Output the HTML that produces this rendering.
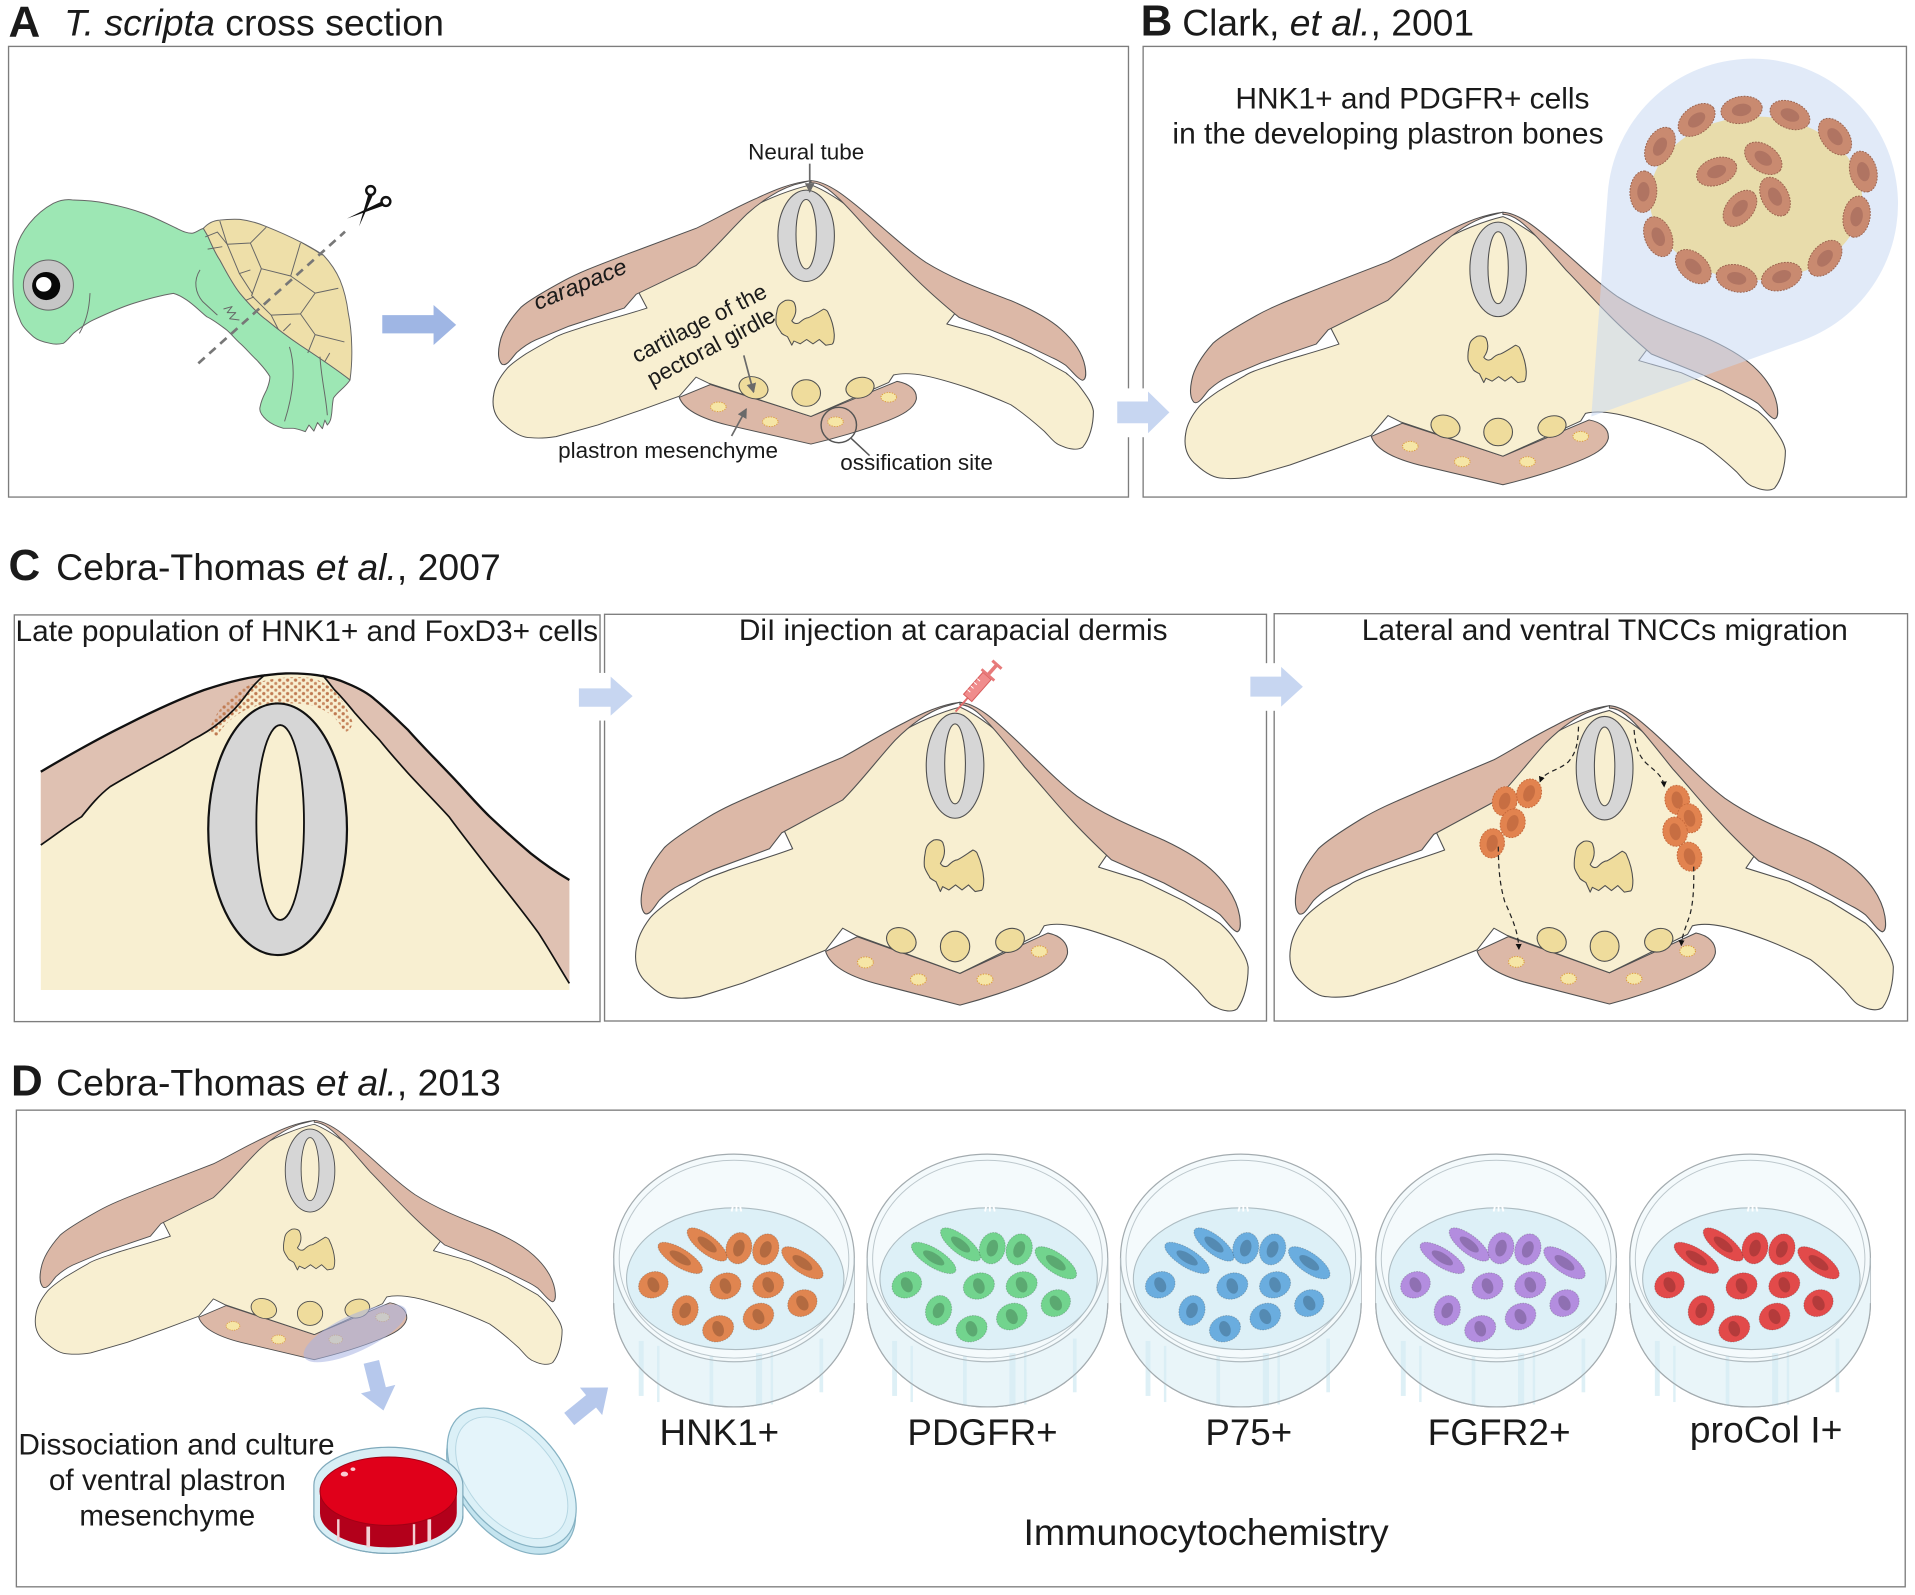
<!DOCTYPE html>
<html><head><meta charset="utf-8">
<style>
html,body{margin:0;padding:0;background:#fff;}
svg{display:block;}
text{font-family:"Liberation Sans",Arial,Helvetica,sans-serif;fill:#1a1a1a;}
</style></head><body>
<svg xmlns="http://www.w3.org/2000/svg" xmlns:xlink="http://www.w3.org/1999/xlink" width="1915" height="1595" viewBox="0 0 1568 1306">
<defs>
 <pattern id="dots" width="6.5" height="5.5" patternUnits="userSpaceOnUse">
  <circle cx="1.5" cy="1.4" r="1.35" fill="#c07a52"/>
  <circle cx="4.8" cy="4.1" r="1.25" fill="#c98a62"/>
 </pattern>
 <marker id="ak" viewBox="0 0 6 6" refX="5" refY="3" markerWidth="5" markerHeight="5" markerUnits="userSpaceOnUse" orient="auto"><path d="M0,0 L6,3 L0,6 Z" fill="#111"/></marker>
 <marker id="ag" viewBox="0 0 8 8" refX="7" refY="4" markerWidth="8" markerHeight="8" markerUnits="userSpaceOnUse" orient="auto"><path d="M0,0 L8,4 L0,8 Z" fill="#6a6a6a"/></marker>

 <g id="sec" stroke="#505050" stroke-width="0.9" stroke-linejoin="round">
  <path fill="#dcb8a7" d="M676,779 C680,792 698,800 716,805 L786,823 C805,818 830,810 848,802 C862,796 872,790 874,781 C875,772 868,766 858,764 L786,797 L702,767 Z"/>
  <path fill="#f8efd1" d="M786,579 C770,583 750,592 735,601 L690,635 L642,680 L649,695 C630,702 612,707 598,712 C585,717 575,720 570,724 C560,730 554,734 548,738 C540,744 535,748 532,752 C526,760 522,768 521,776 C519,788 522,798 530,805 C537,812 545,817 552,817 C560,818 567,817 573,816 L608,805 L644,791 L676,778 L690,760 L701,766 L786,797 L851,765 L855,758 C870,754 890,760 917,770 C935,777 945,782 953,786 C965,795 975,805 981,811 C987,818 990,823 996,825 C1002,828 1009,829 1013,826 C1019,818 1022,805 1022,792 C1021,785 1018,780 1010,768 C1005,761 1002,759 999,756 L970,738 L935,721 L899.5,710 L907,699 L880,662 L839,620 C820,600 800,585 786,579 Z"/>
  <path fill="#dcb8a7" d="M786,575 C770,577 755,584 740,592 C720,602 705,612 690,620 L633,644 C610,654 595,660 580,669 C562,680 550,688 544,694 C535,705 528,716 526,728 C524,738 525,745 528,748 C532,750 536,742 540,737 C545,732 550,728 556,725 L584,712 L630,695 L640,682 L690,655 C705,640 720,620 733,606 C745,594 758,584 772,579 Z"/>
  <path fill="#dcb8a7" d="M786,575 C800,576 815,590 832,606 C850,623 866,640 882,652 C905,668 930,678 953,688 C972,697 986,706 995,715 C1006,726 1013,738 1015,750 C1016,757 1016,762 1013,763 C1009,762 1004,754 999,749 C995,746 992,744 988,742 L953,723 L910,704 C895,690 885,680 875,669 C862,655 850,640 839,628 C826,612 812,593 800,583 C795,579 790,577 786,577 Z"/>
  <ellipse cx="782" cy="627" rx="23.6" ry="43" fill="#d6d6d6"/>
  <ellipse cx="782" cy="625.5" rx="8.5" ry="32.7" fill="#f8efd1"/>
  <path fill="#efdc9c" d="M764.6,687.8 C768,687 771,688 772,690 C774,695 774,701 770,707 C772,710 774,710 776,709 C779,706 782,704 784,704 C788,702 792,699 796.6,696 C799,697 800,698 800.2,699 C803,705 805,712 805.5,720 C805.5,725 805,728 803.7,729 L798.4,730 L793,724.6 L787.7,728.7 L782.4,724.6 L777,728.7 L771.8,726 L770,730 L766.4,722 C763,720 761,719 761,717.8 C758,713 757,710 756.9,709.6 C756.5,705 757,701 757.5,698.7 C758,694 759,691 764.6,687.8 Z"/>
  <ellipse cx="738" cy="770" rx="12.5" ry="10" transform="rotate(25 738 770)" fill="#efdc9c"/>
  <ellipse cx="782" cy="775" rx="12" ry="12.5" fill="#efdc9c"/>
  <ellipse cx="827" cy="770" rx="12" ry="9.5" transform="rotate(-20 827 770)" fill="#efdc9c"/>
  <g fill="#f6e6a6" stroke="#dd9d3c" stroke-width="0.9" stroke-dasharray="1 1.2">
   <ellipse cx="708.6" cy="788" rx="6.5" ry="4.5"/>
   <ellipse cx="752" cy="802" rx="6.5" ry="4.5"/>
   <ellipse cx="806.5" cy="802" rx="6.5" ry="4.5"/>
   <ellipse cx="851" cy="779" rx="6.5" ry="4.5"/>
  </g>
 </g>

 <g id="dish">
  <path d="M-98.5,1030 A98.5,85 0 0 1 98.5,1030 L98.5,1067 A98.5,85 0 0 1 -98.5,1067 Z" fill="#f4fafc" stroke="#a3abaf" stroke-width="1"/>
  <path d="M-98.5,1030 A98.5,85 0 0 0 98.5,1030 L98.5,1067 A98.5,85 0 0 1 -98.5,1067 Z" fill="#e9f5f9"/>
  <g fill="#d6ecf4" fill-opacity="0.8">
   <rect x="-78" y="1098" width="4" height="45"/>
   <rect x="-63" y="1102" width="2" height="46"/>
   <rect x="-20" y="1110" width="3" height="41"/>
   <rect x="18" y="1108" width="5" height="43"/>
   <rect x="30" y="1106" width="2" height="44"/>
   <rect x="70" y="1096" width="3" height="44"/>
  </g>
  <path d="M-98.5,1067 A98.5,85 0 0 0 98.5,1067" fill="none" stroke="#a3abaf" stroke-width="1"/>
  <path d="M-98.5,1030 A98.5,85 0 0 0 98.5,1030" fill="none" stroke="#b0bbc0" stroke-width="1"/>
  <ellipse cx="0" cy="1031" rx="94" ry="81" fill="none" stroke="#bcc7cc" stroke-width="0.8"/>
  <ellipse cx="1" cy="1047" rx="89" ry="58" fill="#ddf0f7" stroke="#adbcc2" stroke-width="0.9"/>
  <path d="M-2,992 l1,-4 M2,992 l0,-5 M6,992 l-1,-4" stroke="#fff" stroke-width="1.5"/>
 </g>

 <g id="cells">
  <g transform="translate(-44,1030) rotate(32)"><ellipse rx="21" ry="7.5" fill="currentColor" stroke="rgba(0,0,0,.2)" stroke-width=".8" stroke-dasharray="1.2 1"/><ellipse rx="10" ry="3.8" fill="#000" fill-opacity=".2"/></g>
  <g transform="translate(-22,1019) rotate(38)"><ellipse rx="20" ry="7.5" fill="currentColor" stroke="rgba(0,0,0,.2)" stroke-width=".8" stroke-dasharray="1.2 1"/><ellipse rx="9.5" ry="3.8" fill="#000" fill-opacity=".2"/></g>
  <g transform="translate(4,1022) rotate(-75)"><ellipse rx="13" ry="10.5" fill="currentColor" stroke="rgba(0,0,0,.2)" stroke-width=".8" stroke-dasharray="1.2 1"/><ellipse rx="7" ry="4.5" fill="#000" fill-opacity=".2"/></g>
  <g transform="translate(26,1023) rotate(-70)"><ellipse rx="13" ry="10.5" fill="currentColor" stroke="rgba(0,0,0,.2)" stroke-width=".8" stroke-dasharray="1.2 1"/><ellipse rx="7" ry="4.5" fill="#000" fill-opacity=".2"/></g>
  <g transform="translate(56,1034) rotate(35)"><ellipse rx="20" ry="8" fill="currentColor" stroke="rgba(0,0,0,.2)" stroke-width=".8" stroke-dasharray="1.2 1"/><ellipse rx="9.5" ry="4" fill="#000" fill-opacity=".2"/></g>
  <g transform="translate(-66,1052) rotate(-25)"><ellipse rx="12.5" ry="10.5" fill="currentColor" stroke="rgba(0,0,0,.2)" stroke-width=".8" stroke-dasharray="1.2 1"/><ellipse rx="4.5" ry="6.5" fill="#000" fill-opacity=".2"/></g>
  <g transform="translate(-7,1053) rotate(-20)"><ellipse rx="13" ry="10.5" fill="currentColor" stroke="rgba(0,0,0,.2)" stroke-width=".8" stroke-dasharray="1.2 1"/><ellipse rx="4.5" ry="6.5" fill="#000" fill-opacity=".2"/></g>
  <g transform="translate(28,1052) rotate(-20)"><ellipse rx="13" ry="10.5" fill="currentColor" stroke="rgba(0,0,0,.2)" stroke-width=".8" stroke-dasharray="1.2 1"/><ellipse rx="4.5" ry="6.5" fill="#000" fill-opacity=".2"/></g>
  <g transform="translate(-40,1073) rotate(-70)"><ellipse rx="12.5" ry="10.5" fill="currentColor" stroke="rgba(0,0,0,.2)" stroke-width=".8" stroke-dasharray="1.2 1"/><ellipse rx="6.5" ry="4.5" fill="#000" fill-opacity=".2"/></g>
  <g transform="translate(56,1067) rotate(-30)"><ellipse rx="12.5" ry="10.5" fill="currentColor" stroke="rgba(0,0,0,.2)" stroke-width=".8" stroke-dasharray="1.2 1"/><ellipse rx="4.5" ry="6.5" fill="#000" fill-opacity=".2"/></g>
  <g transform="translate(20,1078) rotate(-25)"><ellipse rx="13" ry="10.5" fill="currentColor" stroke="rgba(0,0,0,.2)" stroke-width=".8" stroke-dasharray="1.2 1"/><ellipse rx="4.5" ry="6.5" fill="#000" fill-opacity=".2"/></g>
  <g transform="translate(-13,1088) rotate(-20)"><ellipse rx="13" ry="10.5" fill="currentColor" stroke="rgba(0,0,0,.2)" stroke-width=".8" stroke-dasharray="1.2 1"/><ellipse rx="4.5" ry="6.5" fill="#000" fill-opacity=".2"/></g>
 </g>

 <g id="bc"><ellipse rx="17" ry="11" fill="#c98a70" stroke="#9c6550" stroke-width=".8" stroke-dasharray="1.5 1"/><ellipse rx="8" ry="5" fill="#b07462"/></g>
 <g id="oc"><ellipse rx="10" ry="12" fill="#e2834f" stroke="#c86a3c" stroke-width=".8" stroke-dasharray="1.5 1"/><ellipse rx="4.5" ry="7" fill="#c0693f" fill-opacity=".8"/></g>
</defs>

<rect width="1568" height="1306" fill="#fff"/>

<!-- ===== Panel A ===== -->
<text x="7" y="30" font-size="36" font-weight="bold">A</text>
<text x="52.5" y="29" font-size="30" textLength="311" lengthAdjust="spacingAndGlyphs"><tspan font-style="italic">T. scripta</tspan> cross section</text>
<rect x="7" y="38" width="917" height="369" fill="none" stroke="#7d7d7d" stroke-width="1.1"/>

<!-- turtle -->
<g stroke="#666" stroke-width="0.8" stroke-linejoin="round">
 <path fill="#9de7b4" d="M13.6,202 C17,190 28,175 43.7,166.5 C50,163.5 55,163 60,163.8 C70,164 80,165 87.3,166.5 C100,169 110,172 117.4,174.7 C127,178 136,183 144.7,187 C150,189.5 153,191 157,191 C160,191 163,188 166.5,187 L170,193 C173,200 176,207 180,212.9 C185,222 190,232 196.5,240.2 C203,248 210,256 218.3,262 C228,270 236,276 245.6,282.5 C260,292 275,302 286.6,311.1 C283,317 276,321 273,326 C272,331 272,335 271.6,338.4 C271,342 271,345 268,348 L266,344 L264,351 L260,346 L257,353 L253,348 L250,353.4 C246,352 243,351 240.2,350.7 L232,350.7 C226,349 222,347 218.3,343.9 C214,340 212,336 213,333 C214,327 217,322 218.3,319.3 C220,315 221,311 221,308.4 C218,303 214,299 210.2,294.8 C205,290 201,285 196.5,281.1 C192,277 189,273 185.6,270.2 C180,266 175,262 169.2,259.3 C163,254 158,249 152.8,245.6 C149,243 145,241 142,240.2 C131,242 120,245 109.2,248.4 C98,252 87,257 76.4,262 C70,265 65,269 60,273 C57,276 55,279 51.9,281.1 C48,282 44,282 41,281.1 C35,280 30,278 27.3,275.7 C22,271 18,267 16.4,262 C13,255 11.5,248 10.9,240.2 C10.5,233 10.5,227 10.9,221 C11.5,214 12,208 13.6,202 Z"/>
 <path fill="#eedfa9" d="M166.5,187 C170,183 175,180.5 180,180.2 C186,179.5 191,179.4 196.5,179.6 C204,180.5 211,182.5 218.3,185.6 C228,189.5 237,193.5 245.6,197.9 C252,201 258,204.5 264.7,208.8 C270,214.5 275,221.5 278.4,229.3 C282,238 284,247 285.2,256.6 C287,265 287.8,274 288,283.8 C288.3,293 287.8,302 286.6,311.1 C275,302 260,292 245.6,282.5 C236,276 228,270 218.3,262 C210,256 203,248 196.5,240.2 C190,232 185,222 180,212.9 C176,207 173,200 170,193 Z"/>
 <g fill="none">
  <path d="M180,181 L186,200 L196,224 L207,241"/>
  <path d="M186,200 L205,199 L218,186"/>
  <path d="M205,199 L214,220 L238,226 L246,199"/>
  <path d="M214,220 L206,242 L222,258 L246,257 L258,240 L238,226"/>
  <path d="M258,240 L277,236"/>
  <path d="M246,257 L258,274 L282,280"/>
  <path d="M222,258 L228,270"/>
  <path d="M258,274 L252,289"/>
  <path d="M196,224 L205,221"/>
  <path d="M168,194 L178,190 L186,200"/>
  <path d="M170,204 L182,202"/>
  <path d="M201,246 L208,243"/>
  <path d="M232,271 L238,265"/>
  <path d="M266,296 L270,289"/>
  <path d="M246,198 L258,205 L264,209"/>
  <path d="M163.8,221 C158,230 160,240 166,247 L178,258"/>
  <path d="M183,253 L190,251 L186,256 L193,256 L188,261 L196,262"/>
  <path d="M73.7,240 C73,255 70,264 65,273"/>
  <path d="M237,284 C242,300 241,320 233,345"/>
  <path d="M262,292 C263,310 267,325 268,340"/>
 </g>
</g>
<circle cx="39.6" cy="233.4" r="20.5" fill="#c6c6c6" stroke="#666" stroke-width="0.8"/>
<circle cx="37.8" cy="234.2" r="11.5" fill="#080808"/>
<ellipse cx="35.8" cy="232.8" rx="6.3" ry="6" fill="#fff"/>
<line x1="162.4" y1="297.5" x2="282.5" y2="189.7" stroke="#777" stroke-width="2.2" stroke-dasharray="7 5"/>
<g>
 <circle cx="303.5" cy="156" r="3.6" fill="none" stroke="#111" stroke-width="2"/>
 <circle cx="316" cy="165" r="3.6" fill="none" stroke="#111" stroke-width="2"/>
 <path d="M301.5,159.5 L305,160.5 L294,185.5 Z" fill="#111"/>
 <path d="M312.5,165 L313.5,168.5 L284,179 Z" fill="#111"/>
</g>
<path d="M313,258 L355,258 L355,249.7 L373.5,266 L355,282.5 L355,273 L313,273 Z" fill="#9fb6e4"/>

<use href="#sec" xlink:href="#sec" transform="translate(664,147.4) scale(0.98,0.87) translate(-786,-574.5)"/>
<line x1="663" y1="134" x2="663" y2="157" stroke="#6a6a6a" stroke-width="1.4" marker-end="url(#ag)"/>
<line x1="609" y1="291" x2="617" y2="321" stroke="#6a6a6a" stroke-width="1.4" marker-end="url(#ag)"/>
<line x1="599" y1="357" x2="611" y2="335" stroke="#6a6a6a" stroke-width="1.4" marker-end="url(#ag)"/>
<circle cx="686.8" cy="348" r="14.5" fill="none" stroke="#555" stroke-width="1.2"/>
<line x1="697" y1="359" x2="712" y2="373" stroke="#555" stroke-width="1.2"/>
<text x="612.6" y="130.5" font-size="18.4" textLength="95" lengthAdjust="spacingAndGlyphs">Neural tube</text>
<text x="440" y="254" font-size="18.4" font-style="italic" textLength="81" lengthAdjust="spacingAndGlyphs" transform="rotate(-22.7 440 254)">carapace</text>
<text x="521.4" y="297.5" font-size="18.4" textLength="121" lengthAdjust="spacingAndGlyphs" transform="rotate(-26.9 521.4 297.5)">cartilage of the</text>
<text x="534" y="316.6" font-size="18.4" textLength="116" lengthAdjust="spacingAndGlyphs" transform="rotate(-28 534 316.6)">pectoral girdle</text>
<text x="457" y="375" font-size="18.4" textLength="180" lengthAdjust="spacingAndGlyphs">plastron mesenchyme</text>
<text x="688" y="385" font-size="18.4" textLength="125" lengthAdjust="spacingAndGlyphs">ossification site</text>

<!-- ===== Panel B ===== -->
<text x="934" y="29" font-size="36" font-weight="bold">B</text>
<text x="968" y="29" font-size="30" textLength="239" lengthAdjust="spacingAndGlyphs">Clark, <tspan font-style="italic">et al.</tspan>, 2001</text>
<rect x="936" y="38" width="625" height="369" fill="none" stroke="#7d7d7d" stroke-width="1.1"/>
<use href="#sec" xlink:href="#sec" transform="translate(1230.6,173.3) scale(0.98,0.9) translate(-786,-574.5)"/>
<path d="M1303,341 L1316.4,158.4 A119,119 0 1 1 1475.3,279 Z" fill="rgba(200,216,242,0.55)"/>
<ellipse cx="1437.7" cy="162.4" rx="87" ry="67" fill="#e8dcab"/>
<use href="#bc" xlink:href="#bc" transform="translate(1389.2,98.2) rotate(-37)"/>
<use href="#bc" xlink:href="#bc" transform="translate(1426,90) rotate(-9)"/>
<use href="#bc" xlink:href="#bc" transform="translate(1465.6,94.2) rotate(22)"/>
<use href="#bc" xlink:href="#bc" transform="translate(1502.5,111.9) rotate(52)"/>
<use href="#bc" xlink:href="#bc" transform="translate(1525.7,140.5) rotate(76)"/>
<use href="#bc" xlink:href="#bc" transform="translate(1520.2,177.4) rotate(100)"/>
<use href="#bc" xlink:href="#bc" transform="translate(1494.3,211.5) rotate(131)"/>
<use href="#bc" xlink:href="#bc" transform="translate(1458.8,226.5) rotate(162)"/>
<use href="#bc" xlink:href="#bc" transform="translate(1422,227.9) rotate(193)"/>
<use href="#bc" xlink:href="#bc" transform="translate(1386.5,218.3) rotate(222)"/>
<use href="#bc" xlink:href="#bc" transform="translate(1357.8,193.8) rotate(248)"/>
<use href="#bc" xlink:href="#bc" transform="translate(1345.6,157) rotate(-87)"/>
<use href="#bc" xlink:href="#bc" transform="translate(1359.2,120.1) rotate(-62)"/>
<use href="#bc" xlink:href="#bc" transform="translate(1405.6,140.5) rotate(-20)"/>
<use href="#bc" xlink:href="#bc" transform="translate(1443.8,129.6) rotate(35)"/>
<use href="#bc" xlink:href="#bc" transform="translate(1453.4,161) rotate(62)"/>
<use href="#bc" xlink:href="#bc" transform="translate(1424.7,170.6) rotate(-50)"/>
<text x="1011.5" y="89" font-size="24" textLength="290" lengthAdjust="spacingAndGlyphs">HNK1+ and PDGFR+ cells</text>
<text x="960" y="117.5" font-size="24" textLength="353" lengthAdjust="spacingAndGlyphs">in the developing plastron bones</text>

<!-- A->B arrow -->
<rect x="912" y="318" width="48" height="40" fill="#fff"/>
<path d="M914.8,328.8 L940,328.8 L940,320.6 L957.5,337.7 L940,354.8 L940,346.6 L914.8,346.6 Z" fill="#c7d6f1"/>

<!-- ===== Panel C ===== -->
<text x="7" y="475" font-size="36" font-weight="bold">C</text>
<text x="46" y="475" font-size="30" textLength="364" lengthAdjust="spacingAndGlyphs">Cebra-Thomas <tspan font-style="italic">et al.</tspan>, 2007</text>
<rect x="11.7" y="503.5" width="479.6" height="333" fill="none" stroke="#7d7d7d" stroke-width="1.1"/>
<rect x="495" y="503" width="542" height="333" fill="none" stroke="#7d7d7d" stroke-width="1.1"/>
<rect x="1043.3" y="502.5" width="518.6" height="333.5" fill="none" stroke="#7d7d7d" stroke-width="1.1"/>

<!-- C1 -->
<path fill="#f8efd1" d="M33.4,631.9 C50,622 80,605 100.3,595 C120,585 145,573 167.1,565 C185,559 205,553 234,551.4 C250,551 270,553 284,559.5 C295,564 302,568 307.5,573.2 C318,582 326,590 334.2,597.8 C345,610 356,621 367.6,633.2 C380,646 390,658 401,668.7 C412,679 423,689 434.5,698.7 C445,707 455,714 466.2,720.6 L466.2,810.6 L33.4,810.6 Z"/>
<path fill="#dfc1b2" d="M33.4,631.9 C50,622 80,605 100.3,595 C120,585 145,573 167.1,565 C185,559 205,553 217,552.5 C210,558 205,564 200.5,570.5 C195,578 188,585 180.5,591 C172,598 165,602 157,606 C148,612 140,616 133.7,619.6 C118,628 104,636 90.2,644.1 C80,652 73,661 66.8,668.7 C55,676 45,684 33.4,691.9 Z"/>
<path fill="#dfc1b2" d="M264,552.7 C270,553 278,556 284,559.5 C295,564 302,568 307.5,573.2 C318,582 326,590 334.2,597.8 C345,610 356,621 367.6,633.2 C380,646 390,658 401,668.7 C412,679 423,689 434.5,698.7 C445,707 455,714 466.2,720.6 L466.2,805.2 C458,792 450,778 441.1,764.2 C428,746 414,729 401,712.4 C390,698 378,683 367.6,668.7 C356,656 345,645 334.2,633.2 C326,624 318,615 310.8,606 C303,598 297,591 290.8,584.1 C285,577 279,570 274,565 C270,560 267,556 264,552.7 Z"/>
<path fill="url(#dots)" d="M171,600 C174,586 186,571 200,563 C214,556 236,553 254,555 C270,558 282,572 289,592 C287,598 283,601 281,598 C276,586 262,576 241,576 C222,575 208,577 198,583 C188,589 181,596 178,603 Z"/>
<g fill="none" stroke="#111" stroke-linejoin="round">
 <path stroke-width="1.9" d="M33.4,631.9 C50,622 80,605 100.3,595 C120,585 145,573 167.1,565 C185,559 205,553 234,551.4 C250,551 270,553 284,559.5 C295,564 302,568 307.5,573.2 C318,582 326,590 334.2,597.8 C345,610 356,621 367.6,633.2 C380,646 390,658 401,668.7 C412,679 423,689 434.5,698.7 C445,707 455,714 466.2,720.6"/>
 <path stroke-width="1.4" d="M33.4,691.9 C45,684 55,676 66.8,668.7 C73,661 80,652 90.2,644.1 C104,636 118,628 133.7,619.6 C140,616 148,612 157,606 C165,602 172,598 180.5,591 C188,585 195,578 200.5,570.5 C205,564 210,558 217,552.5"/>
 <path stroke-width="1.4" d="M466.2,805.2 C458,792 450,778 441.1,764.2 C428,746 414,729 401,712.4 C390,698 378,683 367.6,668.7 C356,656 345,645 334.2,633.2 C326,624 318,615 310.8,606 C303,598 297,591 290.8,584.1 C285,577 279,570 274,565 C270,560 267,556 264,552.7"/>
</g>
<ellipse cx="227.3" cy="679" rx="56.8" ry="103" fill="#d6d6d6" stroke="#111" stroke-width="1.8"/>
<ellipse cx="229.4" cy="673.5" rx="19.5" ry="79.8" fill="#f8efd1" stroke="#111" stroke-width="1.5"/>
<text x="12.7" y="525" font-size="24.4" textLength="477" lengthAdjust="spacingAndGlyphs">Late population of HNK1+ and FoxD3+ cells</text>

<!-- C2 -->
<use href="#sec" xlink:href="#sec"/>
<g transform="translate(782.4,582.7) rotate(-48.6)">
 <line x1="0" y1="0" x2="16" y2="0" stroke="#e36d6d" stroke-width="1.6"/>
 <rect x="15" y="-4.5" width="24" height="9" fill="#f08c8c" stroke="#d85c5c" stroke-width=".8"/>
 <path d="M20,-4.5 v3 M24,-4.5 v3 M28,-4.5 v3 M32,-4.5 v3" stroke="#fff" stroke-width=".8"/>
 <rect x="39" y="-7" width="2.2" height="14" fill="#e77a7a"/>
 <rect x="41" y="-1.5" width="10" height="3" fill="#e77a7a"/>
 <rect x="50" y="-5" width="2.5" height="10" fill="#e77a7a"/>
</g>
<text x="605" y="524" font-size="24.4" textLength="351" lengthAdjust="spacingAndGlyphs">DiI injection at carapacial dermis</text>

<!-- C3 -->
<use href="#sec" xlink:href="#sec" transform="translate(1317.8,577.3) scale(0.985) translate(-786,-574.5)"/>
<use href="#oc" xlink:href="#oc" transform="translate(1252,649.6) rotate(20)"/>
<use href="#oc" xlink:href="#oc" transform="translate(1232,656) rotate(15)"/>
<use href="#oc" xlink:href="#oc" transform="translate(1238.6,674.1) rotate(20)"/>
<use href="#oc" xlink:href="#oc" transform="translate(1221.8,690.5) rotate(10)"/>
<use href="#oc" xlink:href="#oc" transform="translate(1373.3,655) rotate(-10)"/>
<use href="#oc" xlink:href="#oc" transform="translate(1383.4,670) rotate(-15)"/>
<use href="#oc" xlink:href="#oc" transform="translate(1371.6,681) rotate(-10)"/>
<use href="#oc" xlink:href="#oc" transform="translate(1383.4,701.4) rotate(-15)"/>
<g fill="none" stroke="#222" stroke-width="1" stroke-dasharray="4 3">
 <path d="M1292.5,595 C1292,608 1291,616 1284,624 C1276,631 1264,632 1261,640" marker-end="url(#ak)"/>
 <path d="M1226.8,693.2 C1227,712 1228,724 1232,738 C1238,752 1243,762 1243.7,777" marker-end="url(#ak)"/>
 <path d="M1338,597.7 C1339,610 1341,618 1348,625 C1356,632 1362,636 1362.6,644" marker-end="url(#ak)"/>
 <path d="M1386.8,709.6 C1387,722 1387,736 1384,748 C1381,758 1377,766 1376.7,774" marker-end="url(#ak)"/>
</g>
<text x="1115" y="524" font-size="24.4" textLength="398" lengthAdjust="spacingAndGlyphs">Lateral and ventral TNCCs migration</text>

<!-- C arrows -->
<rect x="472" y="551" width="48" height="39" fill="#fff"/>
<path d="M474,563.6 L500,563.6 L500,554 L518,570 L500,586 L500,578.7 L474,578.7 Z" fill="#c7d6f1"/>
<rect x="1021" y="543" width="48" height="39" fill="#fff"/>
<path d="M1023.8,554 L1049,554 L1049,546 L1066.8,562.3 L1049,578.6 L1049,570.4 L1023.8,570.4 Z" fill="#c7d6f1"/>

<!-- ===== Panel D ===== -->
<text x="9" y="897" font-size="36" font-weight="bold">D</text>
<text x="46" y="897" font-size="30" textLength="364" lengthAdjust="spacingAndGlyphs">Cebra-Thomas <tspan font-style="italic">et al.</tspan>, 2013</text>
<rect x="13.4" y="909" width="1546.6" height="390.3" fill="none" stroke="#7d7d7d" stroke-width="1.1"/>
<use href="#sec" xlink:href="#sec" transform="translate(257.3,917) scale(0.86,0.79) translate(-786,-574.5)"/>
<ellipse cx="290.7" cy="1091.7" rx="46" ry="15" transform="rotate(-25 290.7 1091.7)" fill="rgba(168,178,226,0.55)"/>
<path d="M-20.5,-6.5 L2.5,-6.5 L2.5,-14.5 L20.5,0 L2.5,14.5 L2.5,6.5 L-20.5,6.5 Z" fill="#b6c8ec" transform="translate(309,1135) rotate(76)"/>
<path d="M-20.5,-6.5 L2.5,-6.5 L2.5,-14.5 L20.5,0 L2.5,14.5 L2.5,6.5 L-20.5,6.5 Z" fill="#b6c8ec" transform="translate(482,1149) rotate(-39)"/>

<!-- lid -->
<g transform="rotate(50 419 1210)">
 <ellipse cx="423" cy="1214" rx="66" ry="41" fill="#c4e4ef" stroke="#86b2c3" stroke-width="1"/>
 <ellipse cx="419" cy="1210" rx="66" ry="41" fill="#dbf0f7" stroke="#86b2c3" stroke-width="1"/>
 <ellipse cx="419" cy="1210" rx="58" ry="35" fill="#e4f4fa" stroke="#b5d6e2" stroke-width=".8"/>
</g>
<!-- red dish -->
<g transform="translate(0,4)">
<path d="M257,1212 A61,31 0 0 1 379,1212 L379,1237 A61,31 0 0 1 257,1237 Z" fill="#d8eef5" stroke="#7fa9bb" stroke-width="1"/>
<path d="M262,1217 A56,28 0 0 0 374,1217 L374,1235 A56,28 0 0 1 262,1235 Z" fill="#b3001b"/>
<g fill="#f3d0d4">
 <rect x="276" y="1240" width="2" height="18"/>
 <rect x="300" y="1246" width="3" height="17"/>
 <rect x="338" y="1244" width="2" height="18"/>
 <rect x="350" y="1240" width="3" height="18"/>
</g>
<ellipse cx="318" cy="1217" rx="56" ry="28" fill="#e0001a" stroke="#a30015" stroke-width=".8"/>
<ellipse cx="282" cy="1203" rx="3" ry="2" fill="#fff" fill-opacity=".8"/>
<ellipse cx="289" cy="1199" rx="2" ry="1.5" fill="#fff" fill-opacity=".8"/>
<path d="M257,1237 A61,31 0 0 0 379,1237" fill="none" stroke="#7fa9bb" stroke-width="1"/>
</g>

<text x="15" y="1191" font-size="24.4" textLength="259" lengthAdjust="spacingAndGlyphs">Dissociation and culture</text>
<text x="40" y="1220" font-size="24.4" textLength="194" lengthAdjust="spacingAndGlyphs">of ventral plastron</text>
<text x="65" y="1249" font-size="24.4" textLength="144" lengthAdjust="spacingAndGlyphs">mesenchyme</text>

<!-- dishes -->
<use href="#dish" xlink:href="#dish" x="601"/>
<use href="#cells" xlink:href="#cells" x="601" color="#e08550"/>
<use href="#dish" xlink:href="#dish" x="808.5"/>
<use href="#cells" xlink:href="#cells" x="808.5" color="#72d48e"/>
<use href="#dish" xlink:href="#dish" x="1016"/>
<use href="#cells" xlink:href="#cells" x="1016" color="#6aaddf"/>
<use href="#dish" xlink:href="#dish" x="1225"/>
<use href="#cells" xlink:href="#cells" x="1225" color="#b38ddf"/>
<use href="#dish" xlink:href="#dish" x="1433"/>
<use href="#cells" xlink:href="#cells" x="1433" color="#e24a4a"/>

<text x="540" y="1183" font-size="30" textLength="98" lengthAdjust="spacingAndGlyphs">HNK1+</text>
<text x="743" y="1183" font-size="30" textLength="123" lengthAdjust="spacingAndGlyphs">PDGFR+</text>
<text x="987" y="1183" font-size="30" textLength="71" lengthAdjust="spacingAndGlyphs">P75+</text>
<text x="1169" y="1183" font-size="30" textLength="117" lengthAdjust="spacingAndGlyphs">FGFR2+</text>
<text x="1383.6" y="1181" font-size="30" textLength="125" lengthAdjust="spacingAndGlyphs">proCol I+</text>
<text x="838" y="1265" font-size="30" textLength="299" lengthAdjust="spacingAndGlyphs">Immunocytochemistry</text>
</svg>
</body></html>
